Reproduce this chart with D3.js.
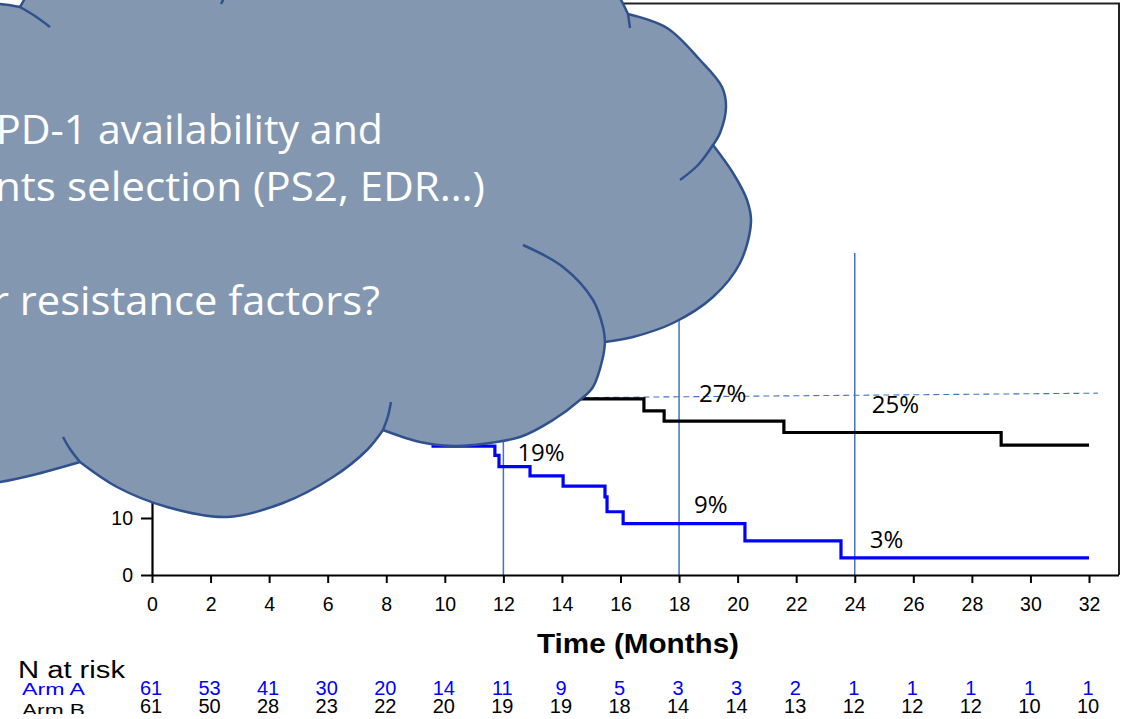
<!DOCTYPE html>
<html>
<head>
<meta charset="utf-8">
<script src="https://cdn.jsdelivr.net/npm/d3@7"></script>
<style>
  html, body { margin: 0; padding: 0; background: #fff; overflow: hidden; }
  svg { display: block; }
</style>
</head>
<body>
<svg id="chart" width="1127" height="719"></svg>
<script>
// ---- Kaplan–Meier step data (months, % event-free) ----
const armATimes  = [0, 0.9, 1.4, 1.8, 2.3, 2.8, 3.3, 3.7, 4.2, 4.7, 5.3, 5.8, 6.4, 6.9, 7.5, 8.0, 8.6, 9.1, 9.6, 11.71, 11.85, 12.91, 14.04, 15.47, 15.54, 16.09, 20.25, 23.53];
const armAValues = [100, 96.7, 93.4, 88.5, 85.2, 80.3, 75.4, 70.5, 65.6, 60.7, 55.7, 50.8, 45.9, 41.0, 36.1, 32.8, 29.5, 26.2, 22.6, 21.0, 19.0, 17.4, 15.6, 13.7, 11.1, 9.0, 6.0, 3.0];
const armBTimes  = [0, 0.7, 1.1, 1.5, 1.9, 2.3, 2.7, 3.0, 3.3, 3.6, 3.9, 4.6, 5.4, 6.8, 8.5, 9.6, 11.3, 16.80, 17.49, 21.58, 29.0];
const armBValues = [100, 96.7, 93.4, 90.2, 85.2, 78.7, 72.1, 65.6, 59.0, 54.1, 49.2, 44.3, 41.0, 37.7, 36.1, 34.4, 30.9, 28.8, 27.0, 25.0, 22.8];
const followUpEnd = 32;

// ---- axis ticks ----
const xTicks = d3.range(0, 33, 2);
const yTicks = d3.range(0, 101, 10);
const yTickLabels = [0, 10];   // the rest sit under the callout

// ---- numbers at risk (one per x tick) ----
const riskArmA = [61, 53, 41, 30, 20, 14, 11, 9, 5, 3, 3, 2, 1, 1, 1, 1, 1];
const riskArmB = [61, 50, 28, 23, 22, 20, 19, 19, 18, 14, 14, 13, 12, 12, 12, 10, 10];

// ---- landmark annotations ----
const landmarkTimes = [12, 18, 24];
const pctLabelTimes  = [18, 24, 12, 18, 24];
const pctLabelValues = [27, 25, 19, 9, 3];

// ---- callout text ----
const calloutLines = ["PD-1 availability and", "nts selection (PS2, EDR…)", "r resistance factors?"];

const svg = d3.select("#chart");

const x = d3.scaleLinear().domain([0, 32]).range([152, 1089]);
const y = d3.scaleLinear().domain([0, 100]).range([575, 5]);

const axisFont = "'Liberation Sans', Arial, sans-serif";
const calloutFont = "'Open Sans', 'Noto Sans', sans-serif";

// plot frame (top and right sides)
svg.append("path")
  .attr("d", `M152,3.5 H1119 V575`)
  .attr("fill", "none").attr("stroke", "#222").attr("stroke-width", 2);

// landmark vertical lines
const landmarkTop = 56.5;
svg.append("g").selectAll("line").data(landmarkTimes).join("line")
  .attr("x1", d => x(d)).attr("x2", d => x(d))
  .attr("y1", y(landmarkTop)).attr("y2", y(0))
  .attr("stroke", "#4472C4").attr("stroke-width", 1.5);

// dashed reference line
svg.append("line")
  .attr("x1", x(12)).attr("y1", y(31.0))
  .attr("x2", x(32.3)).attr("y2", y(31.9))
  .attr("stroke", "#4472C4").attr("stroke-width", 1.1)
  .attr("stroke-dasharray", "6,4");

// KM curves
function stepPoints(times, values) {
  const pts = times.map((t, i) => [t, values[i]]);
  pts.push([followUpEnd, values[values.length - 1]]);
  return pts;
}
const km = d3.line().x(d => x(d[0])).y(d => y(d[1])).curve(d3.curveStepAfter);

svg.append("path").datum(stepPoints(armBTimes, armBValues))
  .attr("d", km).attr("fill", "none").attr("stroke", "#000").attr("stroke-width", 3.2);
svg.append("path").datum(stepPoints(armATimes, armAValues))
  .attr("d", km).attr("fill", "none").attr("stroke", "#0000ff").attr("stroke-width", 3.2);

// axes
const xAxis = svg.append("g").attr("transform", "translate(0,575)")
  .call(d3.axisBottom(x).tickValues(xTicks).tickSize(8).tickSizeOuter(0).tickFormat(d3.format("d")));
xAxis.select(".domain").attr("d", "M152,0.5H1119").attr("stroke", "#000").attr("stroke-width", 2.2);
xAxis.selectAll(".tick line").attr("stroke", "#000").attr("stroke-width", 2);
xAxis.selectAll(".tick text").attr("y", 36).attr("dy", 0)
  .attr("font-family", axisFont).attr("font-size", 19.5).attr("fill", "#000");

const yAxis = svg.append("g").attr("transform", "translate(152,0)")
  .call(d3.axisLeft(y).tickValues(yTicks).tickSize(11).tickPadding(8).tickSizeOuter(0));
yAxis.select(".domain").attr("stroke", "#000").attr("stroke-width", 2.2);
yAxis.selectAll(".tick line").attr("stroke", "#000").attr("stroke-width", 2);
yAxis.selectAll(".tick text").filter(d => !yTickLabels.includes(d)).remove();
yAxis.selectAll(".tick text").attr("font-family", axisFont).attr("font-size", 19.5).attr("fill", "#000");

// x-axis title
svg.append("text").attr("x", 638).attr("y", 653).attr("text-anchor", "middle")
  .attr("font-family", axisFont).attr("font-weight", "bold").attr("font-size", 28)
  .attr("textLength", 202).attr("lengthAdjust", "spacingAndGlyphs")
  .text("Time (Months)");

// percentage annotations
const pctDx = [20, 17, 14, 15, 15];
const pctDy = [-19, -19.5, -6, -11, -10];
svg.append("g").selectAll("text").data(pctLabelTimes).join("text")
  .attr("x", (d, i) => x(d) + pctDx[i])
  .attr("y", (d, i) => y(pctLabelValues[i]) + pctDy[i])
  .attr("font-family", calloutFont).attr("font-size", 24).attr("fill", "#000")
  .text((d, i) => pctLabelValues[i] + "%");

// numbers at risk
svg.append("text").attr("x", 18).attr("y", 678)
  .attr("font-family", axisFont).attr("font-size", 23)
  .attr("textLength", 107).attr("lengthAdjust", "spacingAndGlyphs")
  .text("N at risk");
svg.append("text").attr("x", 22).attr("y", 695).attr("fill", "#0000ff")
  .attr("font-family", axisFont).attr("font-size", 16)
  .attr("textLength", 63).attr("lengthAdjust", "spacingAndGlyphs")
  .text("Arm A");
svg.append("clipPath").attr("id", "rowclip").append("rect")
  .attr("x", 0).attr("y", 697).attr("width", 140).attr("height", 17);
svg.append("text").attr("x", 22).attr("y", 716).attr("clip-path", "url(#rowclip)")
  .attr("font-family", axisFont).attr("font-size", 16)
  .attr("textLength", 63).attr("lengthAdjust", "spacingAndGlyphs")
  .text("Arm B");

svg.append("g").selectAll("text").data(riskArmA).join("text")
  .attr("x", (d, i) => x(xTicks[i]) - 1).attr("y", 695).attr("text-anchor", "middle")
  .attr("font-family", axisFont).attr("font-size", 20).attr("fill", "#0000ff")
  .text(d => d);
svg.append("g").selectAll("text").data(riskArmB).join("text")
  .attr("x", (d, i) => x(xTicks[i]) - 1).attr("y", 713).attr("text-anchor", "middle")
  .attr("font-family", axisFont).attr("font-size", 20).attr("fill", "#000")
  .text(d => d);

// ---- callout cloud ----
const cloudLobes = [
  [[20, 7], [24, 0], [30, -12], [60, -40]],
  [[60, -40], [600, -40]],
  [[600, -40], [612, -15], [621, 0], [628, 14]],
  [[628, 14], [667, 28], [700, 60], [722, 87], [726, 107], [720, 133], [713, 145]],
  [[713, 145], [733, 173], [747, 200], [751, 222], [740, 263], [713, 297], [673, 323], [633, 337], [605, 342]],
  [[605, 342], [603, 357], [593, 387], [580, 400], [553, 420], [520, 437], [473, 445], [453, 446], [420, 442], [383, 430]],
  [[383, 430], [367, 450], [333, 477], [283, 503], [227, 517], [167, 507], [117, 487], [80, 462]],
  [[80, 462], [33, 475], [0, 482], [-30, 486]],
  [[-30, 486], [-40, 4]],
  [[-40, 4], [0, 4], [20, 7]]
];
const innerArcs = [
  [[20, 7], [35, 16], [50, 27]],
  [[226, -10], [223, 0], [221, 4]],
  [[628, 14], [629, 21], [630, 28]],
  [[713, 145], [698, 165], [680, 180]],
  [[605, 342], [603, 327], [593, 300], [563, 267], [523, 245]],
  [[383, 430], [388, 416], [391, 402]],
  [[80, 462], [70, 449], [63, 437]]
];
const smooth = d3.line().curve(d3.curveCatmullRom.alpha(0.5));
let cloudD = "";
cloudLobes.forEach((pts, i) => {
  let s = smooth(pts);
  if (i > 0) s = s.replace(/^M[^CLZ]*/, "");
  cloudD += s;
});
cloudD += "Z";

const cloud = svg.append("g");
cloud.append("path").attr("d", cloudD)
  .attr("fill", "#8497B0").attr("stroke", "#2F528F").attr("stroke-width", 2.5)
  .attr("stroke-linejoin", "round");
cloud.selectAll("path.arc").data(innerArcs).join("path").attr("class", "arc")
  .attr("d", d => smooth(d)).attr("fill", "none")
  .attr("stroke", "#2F528F").attr("stroke-width", 2.5);

const calloutRight = [383, 485, 380];
const calloutBase = [144, 201, 315];
const calloutWidth = [387, 490, 388];
cloud.selectAll("text").data(calloutLines).join("text")
  .attr("x", (d, i) => calloutRight[i] - calloutWidth[i]).attr("y", (d, i) => calloutBase[i])
  .attr("textLength", (d, i) => calloutWidth[i]).attr("lengthAdjust", "spacingAndGlyphs")
  .attr("font-family", calloutFont).attr("font-size", 41).attr("fill", "#fff")
  .text(d => d);
</script>
</body>
</html>
